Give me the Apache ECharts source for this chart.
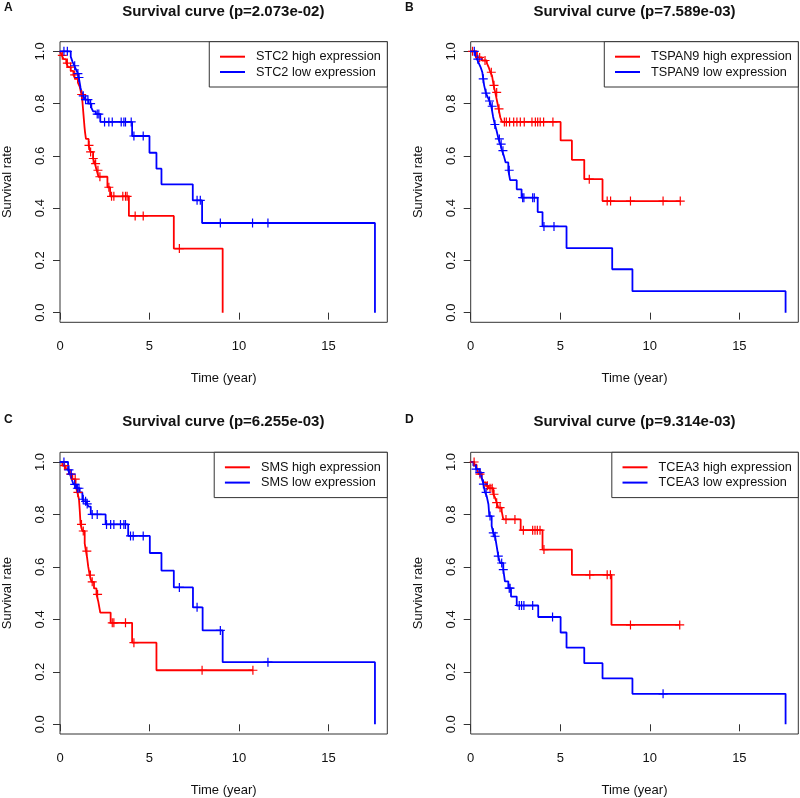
<!DOCTYPE html>
<html><head><meta charset="utf-8">
<script src="https://cdn.jsdelivr.net/npm/echarts@6/dist/echarts.min.js"></script>
<style>html,body{margin:0;padding:0;background:#fff}#c{width:800px;height:798px}</style>
</head><body><div id="c"></div>
<script>
// ---- tick labels / text ----
const xTicks = [0, 5, 10, 15];
const yTicks = [0, 0.2, 0.4, 0.6, 0.8, 1.0];
const panelLetters = ['A', 'B', 'C', 'D'];
const genes = ['STC2', 'TSPAN9', 'SMS', 'TCEA3'];
const pValues = ['2.073e-02', '7.589e-03', '6.255e-03', '9.314e-03'];

// ---- Panel A: STC2 ----
const stc2HighT = [0, 0.1, 0.2, 0.35, 0.45, 0.6, 0.75, 0.85, 1.0, 1.1, 1.2, 1.25, 1.28, 1.31, 1.34, 1.37, 1.4, 1.45, 1.6, 1.7, 1.85, 1.95, 2.05, 2.15, 2.65, 2.8, 3.85, 6.36, 9.09];
const stc2HighS = [1, 0.985, 0.97, 0.955, 0.94, 0.925, 0.91, 0.895, 0.88, 0.865, 0.835, 0.81, 0.785, 0.76, 0.735, 0.71, 0.69, 0.665, 0.64, 0.615, 0.59, 0.57, 0.545, 0.52, 0.48, 0.445, 0.37, 0.245, 0];
const stc2HighCens = [0.13, 0.41, 0.59, 0.82, 1.21, 1.62, 1.71, 1.86, 1.99, 2.12, 2.23, 2.73, 2.88, 3.01, 3.51, 3.66, 3.75, 4.2, 4.65, 6.67];
const stc2LowT = [0, 0.6, 0.7, 0.8, 0.9, 1.0, 1.05, 1.1, 1.15, 1.2, 1.3, 1.4, 1.6, 1.75, 1.85, 2.0, 2.25, 4.03, 5.0, 5.39, 5.67, 7.42, 7.94, 17.6];
const stc2LowS = [1, 0.98, 0.96, 0.945, 0.93, 0.915, 0.9, 0.88, 0.86, 0.845, 0.83, 0.815, 0.8, 0.785, 0.77, 0.76, 0.73, 0.676, 0.612, 0.551, 0.491, 0.43, 0.343, 0];
const stc2LowCens = [0.22, 0.41, 0.82, 1.0, 1.06, 1.3, 1.43, 1.56, 1.71, 2.08, 2.17, 2.49, 2.73, 2.92, 3.42, 3.57, 3.66, 3.98, 4.13, 4.65, 7.66, 7.84, 8.96, 10.76, 11.62];

// ---- Panel B: TSPAN9 ----
const tspan9HighT = [0, 0.35, 0.63, 0.9, 1.0, 1.1, 1.19, 1.28, 1.37, 1.47, 1.56, 1.65, 1.75, 5.02, 5.65, 6.34, 7.36];
const tspan9HighS = [1, 0.977, 0.965, 0.955, 0.94, 0.92, 0.907, 0.87, 0.843, 0.81, 0.78, 0.748, 0.73, 0.659, 0.585, 0.511, 0.427];
const tspan9HighCens = [0.1, 0.5, 0.8, 1.15, 1.3, 1.45, 1.58, 1.88, 1.99, 2.17, 2.4, 2.58, 2.77, 2.99, 3.42, 3.61, 3.74, 3.88, 4.07, 4.59, 6.62, 7.62, 7.81, 8.92, 10.74, 11.7];
const tspan9LowT = [0, 0.25, 0.35, 0.45, 0.55, 0.65, 0.7, 0.75, 0.85, 0.95, 1.05, 1.15, 1.25, 1.35, 1.45, 1.55, 1.65, 1.75, 1.85, 1.95, 2.1, 2.2, 2.57, 2.84, 3.74, 4.01, 5.35, 7.9, 9.03, 17.58];
const tspan9LowS = [1, 0.985, 0.97, 0.955, 0.94, 0.92, 0.895, 0.87, 0.84, 0.825, 0.81, 0.79, 0.75, 0.72, 0.695, 0.665, 0.645, 0.62, 0.6, 0.575, 0.545, 0.507, 0.472, 0.44, 0.385, 0.33, 0.247, 0.166, 0.082, 0];
const tspan9LowCens = [0.2, 0.4, 0.7, 0.85, 1.05, 1.2, 1.35, 1.6, 1.7, 1.8, 2.15, 2.9, 2.97, 3.46, 3.55, 4.09, 4.65];

// ---- Panel C: SMS ----
const smsHighT = [0, 0.13, 0.32, 0.5, 0.69, 0.87, 0.97, 1.06, 1.1, 1.15, 1.25, 1.38, 1.45, 1.52, 1.58, 1.66, 1.76, 1.9, 2.04, 2.14, 2.25, 2.83, 4.03, 5.39];
const smsHighS = [1, 0.986, 0.973, 0.954, 0.935, 0.909, 0.884, 0.858, 0.82, 0.762, 0.737, 0.69, 0.66, 0.633, 0.6, 0.569, 0.543, 0.518, 0.495, 0.468, 0.426, 0.387, 0.311, 0.206];
const smsHighCens = [0.25, 0.6, 0.85, 1.0, 1.2, 1.3, 1.5, 1.7, 1.8, 2.1, 2.92, 3.01, 3.66, 4.13, 7.94, 10.78];
const smsLowT = [0, 0.45, 0.55, 0.65, 0.75, 0.9, 1.1, 1.25, 1.35, 1.5, 1.6, 1.72, 2.55, 3.81, 5.02, 5.67, 6.36, 7.43, 7.97, 9.09, 17.6];
const smsLowS = [1, 0.97, 0.954, 0.935, 0.915, 0.9, 0.884, 0.858, 0.85, 0.84, 0.83, 0.8, 0.762, 0.718, 0.653, 0.586, 0.522, 0.446, 0.358, 0.237, 0];
const smsLowCens = [0.22, 0.5, 0.63, 0.82, 0.97, 1.06, 1.3, 1.43, 1.52, 1.8, 2.08, 2.6, 2.83, 3.01, 3.38, 3.57, 3.66, 3.94, 4.09, 4.65, 6.67, 7.66, 8.96, 11.62];

// ---- Panel D: TCEA3 ----
const tcea3HighT = [0, 0.2, 0.33, 0.43, 0.61, 0.71, 0.86, 0.99, 1.26, 1.36, 1.45, 1.54, 1.73, 1.82, 2.79, 4.01, 5.65, 7.86];
const tcea3HighS = [1, 0.99, 0.98, 0.954, 0.941, 0.922, 0.909, 0.9, 0.877, 0.864, 0.845, 0.826, 0.813, 0.781, 0.74, 0.666, 0.57, 0.379];
const tcea3HighCens = [0.19, 0.52, 0.93, 1.08, 1.2, 1.3, 1.45, 1.64, 1.97, 2.47, 2.94, 3.46, 3.59, 3.72, 3.87, 4.09, 6.65, 7.62, 7.8, 8.92, 11.67];
const tcea3LowT = [0, 0.15, 0.3, 0.48, 0.61, 0.71, 0.8, 0.89, 0.99, 1.04, 1.17, 1.26, 1.36, 1.45, 1.54, 1.64, 1.82, 1.91, 2.1, 2.25, 2.57, 3.77, 5.02, 5.35, 6.34, 7.36, 9.03, 17.58];
const tcea3LowS = [1, 0.986, 0.973, 0.96, 0.941, 0.916, 0.884, 0.871, 0.839, 0.794, 0.756, 0.73, 0.717, 0.679, 0.641, 0.615, 0.59, 0.545, 0.519, 0.487, 0.453, 0.409, 0.35, 0.292, 0.233, 0.175, 0.116, 0];
const tcea3LowCens = [0.3, 0.52, 0.71, 0.86, 1.08, 1.26, 1.36, 1.54, 1.73, 1.82, 2.15, 2.2, 2.71, 2.84, 2.97, 3.46, 4.57, 10.74];

const curves = [
  [[stc2HighT, stc2HighS, stc2HighCens], [stc2LowT, stc2LowS, stc2LowCens]],
  [[tspan9HighT, tspan9HighS, tspan9HighCens], [tspan9LowT, tspan9LowS, tspan9LowCens]],
  [[smsHighT, smsHighS, smsHighCens], [smsLowT, smsLowS, smsLowCens]],
  [[tcea3HighT, tcea3HighS, tcea3HighCens], [tcea3LowT, tcea3LowS, tcea3LowCens]]
];

const RED = '#ff0000', BLUE = '#0000ff', INK = '#333333';
const FONT = '"Liberation Sans", Arial, Helvetica, sans-serif';
const boxes = [
  {left: 59.3, top: 41.7, width: 328, height: 280.6},
  {left: 470.7, top: 41.7, width: 327.6, height: 280.6},
  {left: 59.3, top: 452.3, width: 328, height: 281.7},
  {left: 470.7, top: 452.3, width: 327.6, height: 281.7}
];

function survAt(T, S, t) {
  let v = 1;
  for (let i = 0; i < T.length; i++) { if (T[i] <= t + 1e-9) v = S[i]; else break; }
  return v;
}
function lineData(T, S, C) {
  const d = T.map((t, i) => [t, S[i]]);
  const lastC = Math.max.apply(null, C);
  if (lastC > T[T.length - 1]) d.push([lastC, S[S.length - 1]]);
  return d;
}

const grid = [], xAxis = [], yAxis = [], series = [], legend = [], title = [], graphic = [];
boxes.forEach((b, k) => {
  grid.push({left: b.left, top: b.top, width: b.width, height: b.height, show: true,
    borderColor: INK, borderWidth: 1, backgroundColor: 'transparent', containLabel: false});
  xAxis.push({type: 'value', gridIndex: k, min: 0, max: 18.29,
    axisLine: {show: false}, splitLine: {show: false},
    axisTick: {show: true, inside: false, length: 7, lineStyle: {color: INK, width: 1}, customValues: xTicks},
    axisLabel: {customValues: xTicks, fontSize: 13, color: '#111', fontFamily: FONT, margin: 18},
    name: 'Time (year)', nameLocation: 'middle', nameGap: 50,
    nameTextStyle: {fontSize: 13, color: '#111', fontFamily: FONT}});
  yAxis.push({type: 'value', gridIndex: k, min: -0.037, max: 1.037,
    axisLine: {show: false}, splitLine: {show: false},
    axisTick: {show: true, inside: false, length: 7, lineStyle: {color: INK, width: 1}, customValues: yTicks},
    axisLabel: {customValues: yTicks, rotate: 90, fontSize: 13, color: '#111', fontFamily: FONT, margin: 13,
      formatter: v => v.toFixed(1)},
    name: 'Survival rate', nameLocation: 'middle', nameGap: 46,
    nameTextStyle: {fontSize: 13, color: '#111', fontFamily: FONT}});
  const names = [genes[k] + ' high expression', genes[k] + ' low expression'];
  [RED, BLUE].forEach((col, j) => {
    const [T, S, C] = curves[k][j];
    series.push({type: 'line', name: names[j], xAxisIndex: k, yAxisIndex: k, step: 'end',
      symbol: 'none', data: lineData(T, S, C), lineStyle: {color: col, width: 1.8},
      itemStyle: {color: col}, emphasis: {disabled: true}, silent: true, z: 3});
    series.push({type: 'scatter', name: names[j] + ' censored', xAxisIndex: k, yAxisIndex: k,
      symbol: 'path://M0,5L10,5M5,0L5,10', symbolSize: 9,
      data: C.map(t => [t, survAt(T, S, t)]),
      itemStyle: {color: 'none', borderColor: col, borderWidth: 1.2, opacity: 1},
      emphasis: {disabled: true}, silent: true, z: 4});
  });
  legend.push({data: names.map(n => ({name: n, icon: 'rect'})), orient: 'vertical',
    right: 800 - (b.left + b.width), top: b.top,
    itemWidth: 25, itemHeight: 2, itemGap: 2.3,
    padding: [8.5, 6.5, 8.5, 10.7],
    backgroundColor: '#fff', borderColor: INK, borderWidth: 1, borderRadius: 0,
    selectedMode: false,
    textStyle: {fontSize: 12.7, lineHeight: 13, color: '#111', fontFamily: FONT, padding: [0, 0, 0, 6]}});
  title.push({text: 'Survival curve (p=' + pValues[k] + ')', left: b.left + b.width / 2, textAlign: 'center',
    top: b.top - 37.5, padding: 0,
    textStyle: {fontSize: 15, fontWeight: 'bold', color: '#111', fontFamily: FONT}});
  graphic.push({type: 'text', left: k % 2 === 0 ? 4 : 405, top: k < 2 ? 2 : 414,
    style: {text: panelLetters[k], font: 'bold 12px ' + FONT, fill: '#111'}});
});

const chart = echarts.init(document.getElementById('c'), null, {renderer: 'canvas'});
chart.setOption({animation: false, backgroundColor: '#fff', grid, xAxis, yAxis, series, legend, title, graphic});
</script></body></html>
